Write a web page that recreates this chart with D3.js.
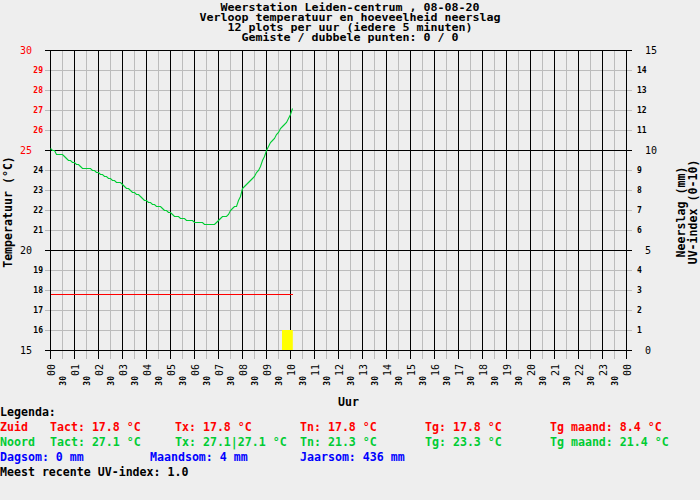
<!DOCTYPE html>
<html>
<head>
<meta charset="utf-8">
<script src="https://cdn.jsdelivr.net/npm/d3@7"></script>
<style>
    body { margin: 0; background: #eeeeee; }
    svg { display: block; }
    text { font-family: "DejaVu Sans Mono", monospace; }
</style>
</head>
<body>
<div id="chart"></div>
<script>
// titel
var titleLines = [
    "Weerstation Leiden-centrum , 08-08-20",
    "Verloop temperatuur en hoeveelheid neerslag",
    "12 plots per uur (iedere 5 minuten)",
    "Gemiste / dubbele punten: 0 / 0"
];

// as-labels
var tempTicks = [15, 16, 17, 18, 19, 20, 21, 22, 23, 24, 25, 26, 27, 28, 29, 30];
var tempMajor = [15, 20, 25, 30];
var rainTicks = [0, 1, 2, 3, 4, 5, 6, 7, 8, 9, 10, 11, 12, 13, 14, 15];
var rainMajor = [0, 5, 10, 15];
var hourLabels = ["00", "01", "02", "03", "04", "05", "06", "07", "08", "09", "10", "11",
                  "12", "13", "14", "15", "16", "17", "18", "19", "20", "21", "22", "23", "00"];
var halfLabel = "30";

// Noord: temperatuur iedere 5 minuten vanaf 00:00
var tempNoord = [
    25.1, 25.0, 25.0, 24.8, 24.8, 24.8, 24.8, 24.7, 24.6, 24.5, 24.5, 24.4,
    24.4, 24.3, 24.3, 24.2, 24.1, 24.1, 24.1, 24.1, 24.1, 24.0, 24.0, 23.9,
    23.9, 23.8, 23.8, 23.7, 23.7, 23.6, 23.6, 23.5, 23.5, 23.4, 23.4, 23.4,
    23.3, 23.2, 23.1, 23.1, 23.0, 22.9, 22.9, 22.8, 22.8, 22.7, 22.6, 22.5,
    22.5, 22.4, 22.4, 22.3, 22.3, 22.2, 22.2, 22.2, 22.1, 22.0, 22.0, 21.9,
    21.9, 21.8, 21.7, 21.7, 21.7, 21.6, 21.6, 21.6, 21.5, 21.5, 21.5, 21.5,
    21.4, 21.4, 21.4, 21.4, 21.4, 21.3, 21.3, 21.3, 21.3, 21.3, 21.3, 21.4,
    21.5, 21.6, 21.7, 21.7, 21.7, 21.8, 22.0, 22.1, 22.2, 22.2, 22.5, 22.7,
    23.1, 23.2, 23.3, 23.4, 23.5, 23.6, 23.7, 23.9, 24.0, 24.2, 24.5, 24.7,
    25.0, 25.2, 25.4, 25.5, 25.6, 25.8, 25.9, 26.1, 26.2, 26.3, 26.4, 26.6,
    26.8, 27.1
];

// Zuid: sensor blijft op 17.8 staan
var zuidTimes = ["00:00", "10:05"];
var zuidValues = [17.8, 17.8];

// UV-index
var uvStart = "09:40";
var uvEnd = "10:07";
var uvValue = 1.0;

// legenda
var legendRows = [
    { color: "#ff0000", items: [
        ["Zuid", 0], ["Tact: 17.8 \u00b0C", 50], ["Tx: 17.8 \u00b0C", 175],
        ["Tn: 17.8 \u00b0C", 300], ["Tg: 17.8 \u00b0C", 425], ["Tg maand: 8.4 \u00b0C", 550]] },
    { color: "#00cc33", items: [
        ["Noord", 0], ["Tact: 27.1 \u00b0C", 50], ["Tx: 27.1|27.1 \u00b0C", 175],
        ["Tn: 21.3 \u00b0C", 300], ["Tg: 23.3 \u00b0C", 425], ["Tg maand: 21.4 \u00b0C", 550]] },
    { color: "#0000ff", items: [
        ["Dagsom: 0 mm", 0], ["Maandsom: 4 mm", 150], ["Jaarsom: 436 mm", 300]] },
    { color: "#000000", items: [["Meest recente UV-index: 1.0", 0]] }
];

function toHours(s) {
    var p = s.split(":");
    return +p[0] + p[1] / 60;
}

function init() {
    var W = 700, H = 500;
    var gridGray = "#bcbcbc";
    var green = "#00cc33";

    var svg = d3.select("#chart").append("svg")
        .attr("width", W)
        .attr("height", H);

    svg.append("rect").attr("width", W).attr("height", H).attr("fill", "#eeeeee");

    var x = d3.scaleLinear().domain([0, 24]).range([50.5, 626.5]);
    var y = d3.scaleLinear().domain([15, 30]).range([350.5, 50.5]);
    var yR = d3.scaleLinear().domain([0, 15]).range([350.5, 50.5]);

    var halfHours = d3.range(0, 24.01, 0.5);
    var isMajorT = function (d) { return tempMajor.indexOf(d) >= 0; };
    var isHour = function (d) { return d % 1 === 0; };

    // titel: 10px regels, tekst uitgerekt tot 7px per teken
    svg.selectAll(".title")
        .data(titleLines)
        .enter().append("text")
        .attr("x", 350)
        .attr("y", function (d, i) { return 7 + i * 10; })
        .attr("dy", "0.35em")
        .attr("text-anchor", "middle")
        .attr("textLength", function (d) { return d.length * 7; })
        .attr("lengthAdjust", "spacingAndGlyphs")
        .style("font-size", "10px")
        .style("font-weight", "bold")
        .text(function (d) { return d; });

    var grid = svg.append("g").attr("shape-rendering", "crispEdges");

    // grijze lijnen eerst
    grid.selectAll(".hg")
        .data(tempTicks.filter(function (d) { return !isMajorT(d); }))
        .enter().append("line")
        .attr("x1", 45).attr("x2", 632)
        .attr("y1", function (d) { return y(d); })
        .attr("y2", function (d) { return y(d); })
        .attr("stroke", gridGray);

    grid.selectAll(".vg")
        .data(halfHours.filter(function (d) { return !isHour(d); }))
        .enter().append("line")
        .attr("x1", function (d) { return x(d); })
        .attr("x2", function (d) { return x(d); })
        .attr("y1", 50).attr("y2", 359)
        .attr("stroke", gridGray);

    // zwarte lijnen
    grid.selectAll(".hb")
        .data(tempTicks.filter(isMajorT))
        .enter().append("line")
        .attr("x1", 45).attr("x2", 632)
        .attr("y1", function (d) { return y(d); })
        .attr("y2", function (d) { return y(d); })
        .attr("stroke", "#000");

    grid.selectAll(".vb")
        .data(halfHours.filter(isHour))
        .enter().append("line")
        .attr("x1", function (d) { return x(d); })
        .attr("x2", function (d) { return x(d); })
        .attr("y1", 50).attr("y2", 359)
        .attr("stroke", "#000");

    // UV-balk
    svg.append("rect")
        .attr("x", x(toHours(uvStart)) - 0.5)
        .attr("width", x(toHours(uvEnd)) - x(toHours(uvStart)))
        .attr("y", yR(uvValue) - 0.5)
        .attr("height", yR(0) - yR(uvValue))
        .attr("fill", "#ffff00");

    // zuid
    svg.append("line")
        .attr("shape-rendering", "crispEdges")
        .attr("x1", x(toHours(zuidTimes[0])))
        .attr("x2", x(toHours(zuidTimes[1])))
        .attr("y1", y(zuidValues[0]))
        .attr("y2", y(zuidValues[1]))
        .attr("stroke", "#ff0000");

    // noord
    var line = d3.line()
        .x(function (d, i) { return x(i * 5 / 60); })
        .y(function (d) { return y(d); });

    svg.append("path")
        .datum(tempNoord)
        .attr("d", line)
        .attr("fill", "none")
        .attr("stroke", green)
        .attr("stroke-width", 1.1);

    // linker as labels
    svg.selectAll(".tl")
        .data(tempTicks)
        .enter().append("text")
        .attr("x", function (d) { return isMajorT(d) ? 32 : 43; })
        .attr("y", function (d) { return y(d); })
        .attr("dy", "0.35em")
        .attr("text-anchor", "end")
        .attr("fill", function (d) { return d >= 25 ? "#ff0000" : "#000"; })
        .style("font-size", function (d) { return isMajorT(d) ? "10px" : "8px"; })
        .style("font-weight", function (d) { return isMajorT(d) ? "normal" : "bold"; })
        .text(function (d) { return d; });

    // rechter as
    var isMajorR = function (d) { return rainMajor.indexOf(d) >= 0; };
    svg.selectAll(".tr")
        .data(rainTicks)
        .enter().append("text")
        .attr("x", function (d) { return isMajorR(d) ? 645 : 637; })
        .attr("y", function (d) { return yR(d); })
        .attr("dy", "0.35em")
        .style("font-size", function (d) { return isMajorR(d) ? "10px" : "8px"; })
        .style("font-weight", function (d) { return isMajorR(d) ? "normal" : "bold"; })
        .text(function (d) { return d; });

    // tijd labels
    svg.selectAll(".tx")
        .data(halfHours)
        .enter().append("text")
        .attr("transform", function (d) {
            return "translate(" + (x(d) + 0.5) + "," + (isHour(d) ? 364 : 376) + ") rotate(-90)";
        })
        .attr("dy", "0.35em")
        .attr("text-anchor", "end")
        .style("font-size", function (d) { return isHour(d) ? "10px" : "8px"; })
        .style("font-weight", function (d) { return isHour(d) ? "normal" : "bold"; })
        .text(function (d) { return isHour(d) ? hourLabels[d] : halfLabel; });

    // as-titels
    var axisTitle = function (txt, tx, ty, rot) {
        svg.append("text")
            .attr("transform", "translate(" + tx + "," + ty + ")" + (rot ? " rotate(-90)" : ""))
            .attr("dy", "0.35em")
            .attr("text-anchor", "middle")
            .style("font-size", "11.6px")
            .style("font-weight", "bold")
            .text(txt);
    };
    axisTitle("Temperatuur (\u00b0C)", 7.5, 212, true);
    axisTitle("Neerslag (mm)", 681, 212, true);
    axisTitle("UV-index (0-10)", 692.5, 212, true);
    axisTitle("Uur", 348.5, 401.5, false);

    // legenda
    svg.append("text")
        .attr("x", 0).attr("y", 412).attr("dy", "0.35em")
        .style("font-size", "11.6px").style("font-weight", "bold")
        .text("Legenda:");

    legendRows.forEach(function (row, r) {
        svg.selectAll(".lg" + r)
            .data(row.items)
            .enter().append("text")
            .attr("x", function (d) { return d[1]; })
            .attr("y", 427 + r * 15)
            .attr("dy", "0.35em")
            .attr("fill", row.color)
            .style("font-size", "11.6px")
            .style("font-weight", "bold")
            .text(function (d) { return d[0]; });
    });
}

window.onload = init;
</script>
</body>
</html>
